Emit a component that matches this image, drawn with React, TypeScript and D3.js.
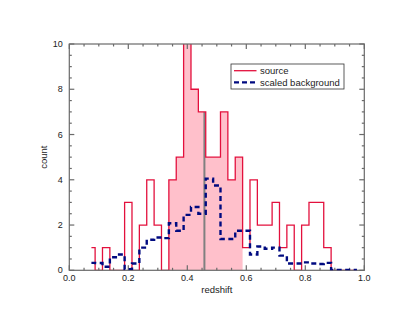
import React from "react";
import * as d3 from "d3";

// bin centres of both histograms (IDL psym=10 style steps)
const binCenters = [
  0.075, 0.1, 0.125, 0.15, 0.175, 0.2, 0.225, 0.25, 0.275, 0.3, 0.325, 0.35,
  0.375, 0.4, 0.425, 0.45, 0.475, 0.5, 0.525, 0.55, 0.575, 0.6, 0.625, 0.65,
  0.675, 0.7, 0.725, 0.75, 0.775, 0.8, 0.825, 0.85, 0.875, 0.9, 0.925, 0.95,
  0.975,
];
const sourceCounts = [
  1, 0, 1, 0, 0, 3, 0, 2, 4, 2, 0, 4, 5, 11, 8, 7, 5, 5, 7, 4, 5, 1, 4, 2, 2,
  3, 1, 2, 0, 2, 3, 3, 1, 0, 0, 0, 0,
];
const backgroundCounts = [
  0.33, 0.32, 0.16, 0.58, 0.7, 0.05, 0.3, 1.0, 1.35, 1.45, 1.42, 2.08, 1.75,
  2.45, 2.8, 2.5, 4.05, 3.75, 1.38, 1.38, 1.75, 1.75, 0.7, 1.05, 0.95, 1.0,
  0.65, 0.3, 0.3, 0.35, 0.3, 0.28, 0.33, 0.02, 0.02, 0.02, 0.02,
];
// shaded redshift window and marker line
const shadeRange = [0.3375, 0.5875];
const markerZ = 0.458;

const xTicks = [0, 0.2, 0.4, 0.6, 0.8, 1.0];
const yTicks = [0, 2, 4, 6, 8, 10];
const legendLabels = ["source", "scaled background"];

const W = 415;
const H = 321;
const margin = { left: 69.3, right: 50.7, top: 44, bottom: 50.7 };
const binWidth = 0.025;

const RED = "#e3103d";
const PINK = "#ffc0cb";
const NAVY = "#000a80";
const AXIS = "#6a6a6a";
const FONT = "'Liberation Sans', Arial, Helvetica, sans-serif";

export default function App() {
  const x = d3.scaleLinear().domain([0, 1]).range([margin.left, W - margin.right]);
  const y = d3.scaleLinear().domain([0, 10]).range([H - margin.bottom, margin.top]);

  const stepLine = d3
    .line<[number, number]>()
    .x((d) => x(d[0]))
    .y((d) => y(d[1]))
    .curve(d3.curveStep);

  const src: [number, number][] = binCenters.map((c, i) => [c, sourceCounts[i]]);
  const bkg: [number, number][] = binCenters.map((c, i) => [c, backgroundCounts[i]]);

  // shaded region: full bins between shadeRange edges
  const shadeBins = binCenters
    .map((c, i) => ({ c, v: sourceCounts[i] }))
    .filter((d) => d.c > shadeRange[0] && d.c < shadeRange[1]);
  const shadePts: [number, number][] = shadeBins.map((d) => [d.c - binWidth / 2, d.v]);
  shadePts.push([shadeRange[1], shadeBins[shadeBins.length - 1].v]);
  const shadeArea = d3
    .area<[number, number]>()
    .x((d) => x(d[0]))
    .y0(y(0))
    .y1((d) => y(d[1]))
    .curve(d3.curveStepAfter);

  const markerIdx = binCenters.findIndex((c) => Math.abs(c - markerZ) <= binWidth / 2);
  const markerTop = sourceCounts[markerIdx];

  const x0 = x(0), x1 = x(1), yb = y(0), yt = y(10);
  const xMinor = d3.range(0, 1.0001, 0.05);
  const yMinor = d3.range(0, 10.001, 0.5);

  const lx = 231, ly = 64;

  return (
    <svg
      width={W}
      height={H}
      style={{ position: "absolute", left: 0, top: 0, background: "#fff" }}
      fontFamily={FONT}
    >
      <defs>
        <clipPath id="plotClip">
          <rect x={x0} y={yt} width={x1 - x0} height={yb - yt} />
        </clipPath>
      </defs>

      <g clipPath="url(#plotClip)">
        <path d={shadeArea(shadePts) ?? ""} fill={PINK} />
        <line
          x1={x(markerZ)}
          x2={x(markerZ)}
          y1={yb}
          y2={y(markerTop)}
          stroke="#808080"
          strokeWidth={2}
        />
        <path d={stepLine(src) ?? ""} fill="none" stroke={RED} strokeWidth={1.3} />
      </g>

      {/* frame and ticks */}
      <g stroke={AXIS} strokeWidth={1.2}>
        <rect x={x0} y={yt} width={x1 - x0} height={yb - yt} fill="none" />
        {xMinor.map((v, i) => {
          const len = i % 4 === 0 ? 5 : 2.5;
          return (
            <g key={"xt" + i}>
              <line x1={x(v)} x2={x(v)} y1={yb} y2={yb - len} />
              <line x1={x(v)} x2={x(v)} y1={yt} y2={yt + len} />
            </g>
          );
        })}
        {yMinor.map((v, i) => {
          const len = i % 4 === 0 ? 5 : 2.5;
          return (
            <g key={"yt" + i}>
              <line x1={x0} x2={x0 + len} y1={y(v)} y2={y(v)} />
              <line x1={x1} x2={x1 - len} y1={y(v)} y2={y(v)} />
            </g>
          );
        })}
      </g>

      <g clipPath="url(#plotClip)">
        <path
          d={stepLine(bkg) ?? ""}
          fill="none"
          stroke={NAVY}
          strokeWidth={2.4}
          strokeDasharray="5,3.5"
        />
      </g>

      {/* tick labels */}
      <g fontSize={9} fill="#222">
        {xTicks.map((v) => (
          <text key={"xl" + v} x={x(v)} y={yb + 11} textAnchor="middle">
            {v.toFixed(1)}
          </text>
        ))}
        {yTicks.map((v) => (
          <text key={"yl" + v} x={x0 - 6.5} y={y(v) + 3} textAnchor="end">
            {v}
          </text>
        ))}
      </g>

      <text x={(x0 + x1) / 2} y={yb + 23} textAnchor="middle" fontSize={9.5} fill="#222">
        redshift
      </text>
      <text
        transform={`translate(${x0 - 22},${(yb + yt) / 2}) rotate(-90)`}
        textAnchor="middle"
        fontSize={9.5}
        fill="#222"
      >
        count
      </text>

      {/* legend */}
      <g>
        <rect x={lx} y={ly} width={113} height={25} fill="#fff" stroke="#333" strokeWidth={0.8} />
        <line x1={lx + 3} x2={lx + 25.5} y1={ly + 6.7} y2={ly + 6.7} stroke={RED} strokeWidth={1.3} />
        <line
          x1={lx + 3}
          x2={lx + 25.5}
          y1={ly + 18.3}
          y2={ly + 18.3}
          stroke={NAVY}
          strokeWidth={2.2}
          strokeDasharray="5,3"
        />
        <text x={lx + 29} y={ly + 10} fontSize={9.5} fill="#222">
          {legendLabels[0]}
        </text>
        <text x={lx + 29} y={ly + 21.7} fontSize={9.5} fill="#222">
          {legendLabels[1]}
        </text>
      </g>
    </svg>
  );
}
